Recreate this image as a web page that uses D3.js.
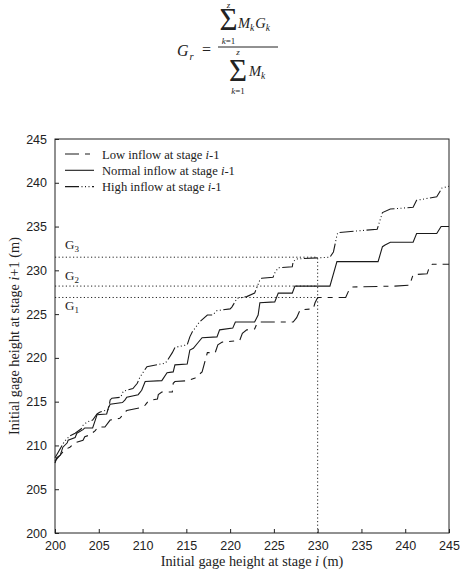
<!DOCTYPE html>
<html lang="en">
<head>
  <meta charset="UTF-8">
  <title>Gage height staircase</title>
  <style>
    body { margin: 0; background: #fff; }
    svg { display: block; font-family: "Liberation Serif", "Times New Roman", serif; }
    .axis text { font-size: 12.5px; fill: #222; }
    .axis line { stroke: #222; }
    .axis path { display: none; }
    .curve { fill: none; stroke: #1a1a1a; stroke-width: 1.1; }
    .guide { stroke: #222; stroke-width: 1; stroke-dasharray: 1.2,2.4; }
  </style>
</head>
<body>
  <script src="https://d3js.org/d3.v7.min.js"></script>
  <script>
    // data (x = stage i, y = stage i+1, metres)
    const xTicks = [200, 205, 210, 215, 220, 225, 230, 235, 240, 245];
    const yTicks = [200, 205, 210, 215, 220, 225, 230, 235, 240, 245];

    const lowInflow = [
      [200, 208.0], [200.2, 208.6], [200.6, 208.9], [201.1, 209.5], [201.7, 209.8], [202.3, 210.3],
      [203.2, 210.6], [203.4, 211.0], [204.0, 211.2], [204.6, 211.7], [204.9, 212.1], [205.7, 212.1],
      [206.3, 212.9], [207.4, 213.1], [208.0, 213.8], [208.2, 214.0], [209.7, 214.3], [210.3, 214.6],
      [210.6, 215.0], [211.1, 215.2], [211.7, 215.3], [211.8, 215.8], [212.2, 216.1], [213.4, 216.1],
      [213.5, 217.1], [213.7, 217.3], [215.2, 217.4], [216.0, 217.7], [216.8, 218.4], [217.4, 220.6],
      [218.3, 220.6], [218.6, 221.5], [219.1, 221.8], [221.1, 222.0], [221.4, 222.8], [221.9, 223.2],
      [222.8, 223.3], [223.1, 224.0], [223.4, 224.1], [227.2, 224.1], [227.6, 224.6], [228.0, 225.5],
      [229.5, 225.6], [229.7, 226.3], [230.0, 226.9], [233.2, 226.9], [233.6, 227.8], [233.9, 228.1],
      [238.8, 228.2], [240.5, 228.3], [240.9, 229.5], [242.5, 229.6], [242.8, 230.5], [243.1, 230.7],
      [245, 230.7]
    ];

    const normalInflow = [
      [200, 208.2], [200.6, 208.9], [200.9, 209.8], [201.4, 210.3], [201.5, 210.6], [202.3, 210.9],
      [202.5, 211.4], [203.2, 211.8], [203.4, 212.0], [204.3, 212.0], [204.6, 212.9], [204.8, 213.5],
      [205.9, 213.6], [206.1, 214.3], [206.3, 214.7], [207.7, 214.9], [208.0, 215.2], [208.2, 215.5],
      [209.5, 215.8], [209.9, 216.3], [210.3, 217.3], [212.2, 217.4], [212.8, 218.3], [213.5, 218.4],
      [213.7, 219.2], [215.1, 219.3], [215.4, 220.9], [215.8, 221.1], [216.3, 221.7], [216.8, 222.3],
      [218.5, 222.4], [218.8, 223.2], [220.3, 223.4], [220.6, 224.1], [222.8, 224.1], [223.2, 224.9],
      [223.4, 226.3], [225.1, 226.4], [225.5, 227.4], [227.1, 227.4], [227.4, 228.2], [231.4, 228.2],
      [232.2, 231.0], [236.9, 231.0], [237.4, 232.7], [237.7, 232.9], [238.3, 233.2], [240.9, 233.2],
      [241.3, 234.2], [243.6, 234.2], [244.1, 235.0], [245, 235.0]
    ];

    const highInflow = [
      [200, 208.6], [200.3, 209.1], [201.1, 210.5], [201.7, 211.1], [202.3, 211.4], [203.0, 211.9],
      [203.2, 212.3], [203.7, 212.7], [204.3, 212.9], [204.8, 213.6], [205.1, 213.8], [206.1, 214.1],
      [206.3, 215.2], [206.5, 215.4], [207.5, 215.5], [207.8, 216.2], [208.9, 216.5], [209.4, 217.1],
      [209.7, 217.8], [210.5, 219.0], [212.6, 219.4], [212.9, 219.8], [213.4, 220.6], [213.7, 221.2],
      [215.1, 221.5], [215.4, 222.4], [215.7, 223.0], [216.0, 223.4], [216.5, 224.1], [217.4, 224.9],
      [218.0, 224.9], [218.5, 225.4], [220.0, 225.6], [220.2, 225.8], [220.8, 226.8], [221.9, 227.0],
      [222.8, 227.4], [223.4, 228.9], [223.6, 229.1], [224.9, 229.2], [225.1, 229.7], [225.5, 230.3],
      [227.1, 230.4], [227.2, 231.0], [227.6, 231.3], [231.4, 231.5], [231.8, 232.1], [232.2, 234.0],
      [232.3, 234.3], [236.8, 234.7], [237.4, 236.6], [238.3, 237.0], [240.9, 237.2], [241.3, 238.0],
      [243.6, 238.4], [244.2, 239.4], [245, 239.6]
    ];

    // weighted heights marked at stage i = 230
    const guideX = 230;
    const guideLevels = [226.9, 228.2, 231.5];
    const guideNames = ['1', '2', '3'];

    const legendLabels = ['Low inflow at stage ', 'Normal inflow at stage ', 'High inflow at stage '];
    const dashes = ['14,6,5,6', null, '14,2.5,1,2.5,1,2.5,1,2.5'];

    const WIDTH = 468, HEIGHT = 572;
    const margin = {top: 139, right: 19, bottom: 39, left: 55};
    const innerW = WIDTH - margin.left - margin.right;
    const innerH = HEIGHT - margin.top - margin.bottom;

    const svg = d3.select('body').append('svg')
      .attr('width', WIDTH).attr('height', HEIGHT)
      .attr('viewBox', `0 0 ${WIDTH} ${HEIGHT}`);

    const x = d3.scaleLinear().domain([200, 245]).range([margin.left, margin.left + innerW]);
    const y = d3.scaleLinear().domain([200, 245]).range([margin.top + innerH, margin.top]);

    drawFormula();

    // axes, ticks pointing inside
    svg.append('g').attr('class', 'axis')
      .attr('transform', `translate(0,${margin.top + innerH})`)
      .call(d3.axisBottom(x).tickValues(xTicks).tickSize(-4).tickSizeOuter(0).tickPadding(8));
    svg.append('g').attr('class', 'axis')
      .attr('transform', `translate(${margin.left},0)`)
      .call(d3.axisLeft(y).tickValues(yTicks).tickSize(-4).tickSizeOuter(0).tickPadding(8));

    svg.append('rect')
      .attr('x', margin.left).attr('y', margin.top)
      .attr('width', innerW).attr('height', innerH)
      .attr('fill', 'none').attr('stroke', '#222');

    // dotted guides
    guideLevels.forEach(g => {
      svg.append('line').attr('class', 'guide')
        .attr('x1', x(200)).attr('x2', x(guideX))
        .attr('y1', y(g)).attr('y2', y(g));
    });
    svg.append('line').attr('class', 'guide')
      .attr('x1', x(guideX)).attr('x2', x(guideX))
      .attr('y1', y(200)).attr('y2', y(d3.max(guideLevels)));

    const labelY = [y(guideLevels[0]) + 13, y(guideLevels[1]) - 6, y(guideLevels[2]) - 8];
    guideNames.forEach((n, i) => {
      const t = svg.append('text').attr('x', 65).attr('y', labelY[i])
        .attr('font-size', 13).attr('fill', '#222');
      t.append('tspan').text('G');
      t.append('tspan').attr('font-size', 9).attr('dy', 3).text(n);
    });

    // curves
    const line = d3.line().x(d => x(d[0])).y(d => y(d[1]));
    [lowInflow, normalInflow, highInflow].forEach((s, i) => {
      svg.append('path').attr('class', 'curve')
        .attr('d', line(s))
        .attr('stroke-dasharray', dashes[i]);
    });

    // legend
    const legend = svg.append('g').attr('transform', 'translate(65,154)');
    legendLabels.forEach((lab, i) => {
      const row = legend.append('g').attr('transform', `translate(0,${i * 16.3})`);
      row.append('line').attr('class', 'curve')
        .attr('x1', 0).attr('x2', 29).attr('y1', 0).attr('y2', 0)
        .attr('stroke-dasharray', dashes[i]);
      const t = row.append('text').attr('x', 37).attr('y', 4.5)
        .attr('font-size', 12.6).attr('fill', '#222');
      t.append('tspan').text(lab);
      t.append('tspan').attr('font-style', 'italic').text('i');
      t.append('tspan').text('-1');
    });

    // axis titles
    const xt = svg.append('text').attr('x', margin.left + innerW / 2).attr('y', 566)
      .attr('text-anchor', 'middle').attr('font-size', 14.3).attr('fill', '#222');
    xt.append('tspan').text('Initial gage height at stage ');
    xt.append('tspan').attr('font-style', 'italic').text('i');
    xt.append('tspan').text(' (m)');

    const yt = svg.append('text')
      .attr('transform', `translate(19,${margin.top + innerH / 2}) rotate(-90)`)
      .attr('text-anchor', 'middle').attr('font-size', 14.3).attr('fill', '#222');
    yt.append('tspan').text('Initial gage height at stage ');
    yt.append('tspan').attr('font-style', 'italic').text('i');
    yt.append('tspan').text('+1 (m)');

    function drawFormula () {
      const f = svg.append('g').attr('fill', '#222');
      const txt = (px, py, size, s, italic) => f.append('text')
        .attr('x', px).attr('y', py).attr('font-size', size)
        .attr('font-style', italic ? 'italic' : null).text(s);

      // summation sign with its limits kept in one text element
      const sigma = (cx, top, base, bottom) => {
        const t = f.append('text').attr('text-anchor', 'middle');
        t.append('tspan').attr('x', cx).attr('y', top).attr('font-size', 9)
          .attr('font-style', 'italic').text('z');
        t.append('tspan').attr('x', cx).attr('y', base).attr('font-size', 31).text('\u03A3');
        const lim = t.append('tspan').attr('x', cx).attr('y', bottom).attr('font-size', 9);
        lim.append('tspan').attr('font-style', 'italic').text('k');
        lim.append('tspan').text('=1');
      };

      txt(177, 56, 16, 'G', true);
      txt(189.5, 59.5, 10.5, 'r', true);
      txt(202, 55, 16, '=', false);
      f.append('line').attr('x1', 218).attr('x2', 278).attr('y1', 47).attr('y2', 47)
        .attr('stroke', '#222').attr('stroke-width', 1);

      // numerator
      sigma(228.5, 8, 30, 44);
      const num = f.append('text').attr('x', 238).attr('y', 28).attr('font-size', 14.5);
      num.append('tspan').attr('font-style', 'italic').text('M');
      num.append('tspan').attr('font-style', 'italic').attr('font-size', 9.5).attr('dy', 3).text('k');
      num.append('tspan').attr('font-style', 'italic').attr('dy', -3).attr('dx', 1).text('G');
      num.append('tspan').attr('font-style', 'italic').attr('font-size', 9.5).attr('dy', 3).text('k');

      // denominator
      sigma(238, 55, 81, 94);
      const den = f.append('text').attr('x', 249).attr('y', 76).attr('font-size', 14.5);
      den.append('tspan').attr('font-style', 'italic').text('M');
      den.append('tspan').attr('font-style', 'italic').attr('font-size', 9.5).attr('dy', 3).text('k');
    }
  </script>
</body>
</html>
